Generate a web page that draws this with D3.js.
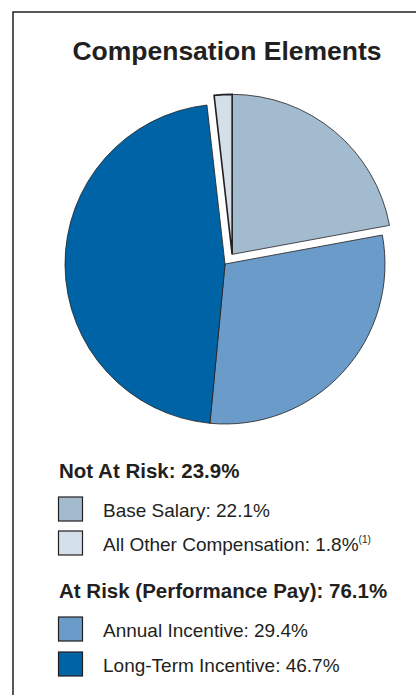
<!DOCTYPE html>
<html>
<head>
<meta charset="utf-8">
<script src="https://cdn.jsdelivr.net/npm/d3@7"></script>
<style>
  body { margin: 0; background: #fff; }
  svg { display: block; font-family: "Liberation Sans", Arial, sans-serif; }
</style>
</head>
<body>
<svg id="chart" width="416" height="695"></svg>
<script>
// slices in clockwise order from 12 o'clock
const labels = ["Base Salary", "Annual Incentive", "Long-Term Incentive", "All Other Compensation"];
const values = [22.1, 29.4, 46.7, 1.8];
const atRisk = [false, true, true, false];
const colors = ["#a3bbce", "#6a9bc9", "#0063a5", "#d3e0ea"];

const groupTitles = ["Not At Risk: 23.9%", "At Risk (Performance Pay): 76.1%"];
const groupItems = [[0, 3], [1, 2]];

var svg = d3.select("#chart");
const width = +svg.attr("width"),
      height = +svg.attr("height");

const cx = 225, cy = 264, radius = 160, explode = 12;

// frame (only top and left edges show)
svg.append("path")
    .attr("d", "M13," + (height + 5) + "V12H" + (width + 5))
    .attr("fill", "none")
    .attr("stroke", "#231f20")
    .attr("stroke-width", 1.5);

svg.append("text")
    .attr("x", 227)
    .attr("y", 60)
    .attr("text-anchor", "middle")
    .attr("font-weight", "bold")
    .attr("font-size", 26.5)
    .attr("fill", "#231f20")
    .text("Compensation Elements");

var pie = d3.pie().sort(null).value(function(d) { return d; });
var arcs = pie(values);
var arc = d3.arc().innerRadius(0).outerRadius(radius);

// direction to push out the "not at risk" slices together
var notRisk = arcs.filter(function(a, i) { return !atRisk[i]; });
var groupStart = notRisk[1].startAngle - 2 * Math.PI;
var groupEnd = notRisk[0].endAngle;
var mid = (groupStart + groupEnd) / 2;
var dx = Math.sin(mid) * explode, dy = -Math.cos(mid) * explode;

var g = svg.append("g").attr("transform", "translate(" + cx + "," + cy + ")");

g.selectAll("path.slice")
    .data(arcs)
    .enter().append("path")
    .attr("class", "slice")
    .attr("d", arc)
    .attr("fill", function(d, i) { return colors[i]; })
    .attr("stroke", "#231f20")
    .attr("stroke-width", function(d, i) { return i == 3 ? 1.6 : 0.8; })
    .attr("stroke-linejoin", "miter")
    .attr("transform", function(d, i) {
        return atRisk[i] ? null : "translate(" + dx + "," + dy + ")";
    });

// legend
const legendX = 59;
const headerY = [478, 598];
const rowY = [[517, 551], [637, 672]];

groupTitles.forEach(function(title, gi) {
    svg.append("text")
        .attr("x", legendX)
        .attr("y", headerY[gi])
        .attr("font-weight", "bold")
        .attr("font-size", 20.5)
        .attr("fill", "#231f20")
        .text(title);

    groupItems[gi].forEach(function(idx, k) {
        var y = rowY[gi][k];
        svg.append("rect")
            .attr("x", 58.5)
            .attr("y", y - 20)
            .attr("width", 24)
            .attr("height", 24)
            .attr("fill", colors[idx])
            .attr("stroke", "#231f20")
            .attr("stroke-width", 1.2);
        var t = svg.append("text")
            .attr("x", 103)
            .attr("y", y)
            .attr("font-size", 19)
            .attr("fill", "#231f20")
            .text(labels[idx] + ": " + values[idx].toFixed(1) + "%");
        if (idx == 3) {
            t.append("tspan")
                .attr("font-size", 10)
                .attr("dy", -8)
                .text("(1)");
        }
    });
});
</script>
</body>
</html>
